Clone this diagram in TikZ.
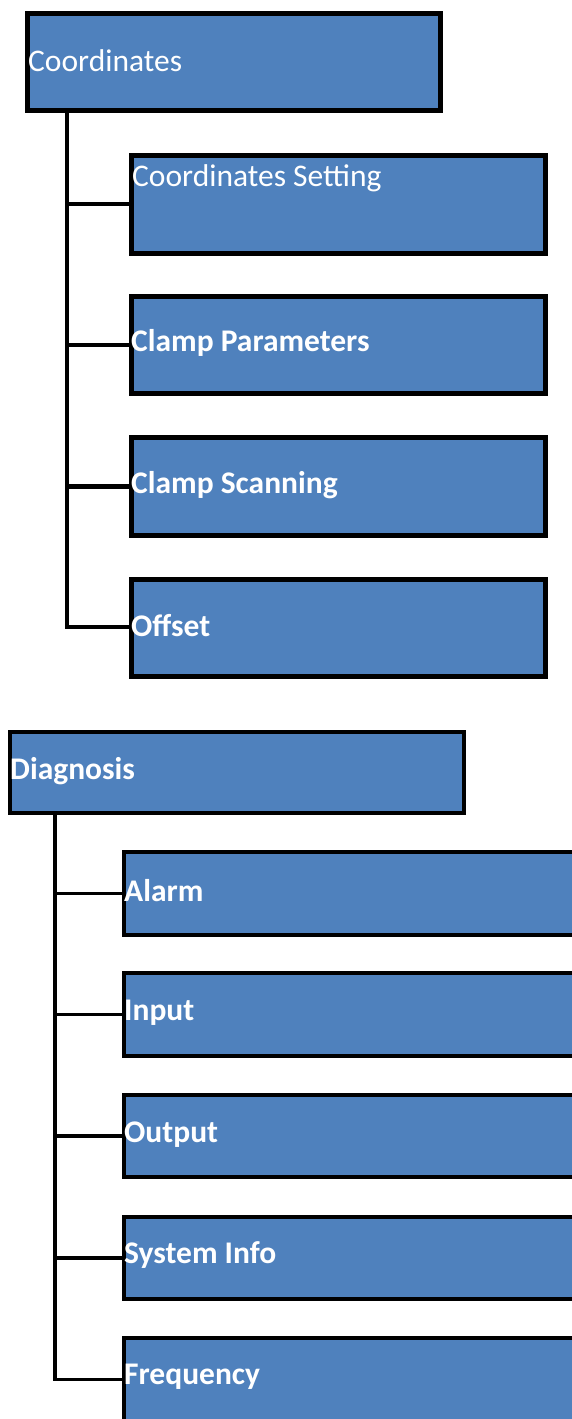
\documentclass[tikz,border=0pt]{standalone}
\usepackage{fontspec}
\setmainfont{Carlito}
\usetikzlibrary{positioning}
\definecolor{boxblue}{HTML}{4F81BD}
\tikzset{
  menubox/.style={draw=black, fill=boxblue, rectangle, anchor=north west,
    inner sep=0pt, line width=#1},
  menubox/.default=4.5pt,
  menutext/.style={text=white, anchor=west, inner sep=0pt, font=\fontsize{31.5}{33}\selectfont},
  boldtext/.style={menutext, font=\fontsize{31.5}{33}\selectfont\bfseries},
  tree/.style={draw=black, line width=#1, line cap=rect},
  tree/.default=4.5pt
}
\begin{document}
\begin{tikzpicture}[x=1pt,y=-1pt]
  \useasboundingbox (0,0) rectangle (572,1419);
  \clip (0,0) rectangle (572,1419);

  % ---- Coordinates menu ----
  \node[menubox, minimum width=413pt, minimum height=97pt] (coord) at (25,11) {};
  \node[menutext] (coordT) at (28,61) {Coordinates};

  \node[menubox, minimum width=414pt, minimum height=98pt] (cset) at (129,153) {};
  \node[menutext] at (132,178) {Coordinates Setting};

  \node[menubox, minimum width=414pt, minimum height=97pt] (clampP) at (129,294) {};
  \node[boldtext] at (131,343) {Clamp Parameters};

  \node[menubox, minimum width=414pt, minimum height=98pt] (clampS) at (129,435) {};
  \node[boldtext] at (131,485) {Clamp Scanning};

  \node[menubox, minimum width=414pt, minimum height=97pt] (offset) at (129,577) {};
  \node[boldtext] at (131,626) {Offset};

  \coordinate (trunkA) at (67,0);
  \draw[tree] (coord.south -| trunkA) |- (offset.west |- 0,627);
  \draw[tree] (cset.west |- 0,204) -- (trunkA |- 0,204);
  \draw[tree] (clampP.west) -- (clampP.west -| trunkA);
  \draw[tree] (clampS.west) -- (clampS.west -| trunkA);

  % ---- Diagnosis menu ----
  \node[menubox=4pt, minimum width=454pt, minimum height=81pt] (diag) at (8,730) {};
  \node[boldtext] at (10,771) {Diagnosis};

  \node[menubox=4pt, minimum width=480pt, minimum height=83pt] (alarm) at (122,850) {};
  \node[boldtext] at (124,891) {Alarm};

  \node[menubox=4pt, minimum width=480pt, minimum height=83pt] (input) at (122,971) {};
  \node[boldtext] at (124,1013) {Input};

  \node[menubox=4pt, minimum width=480pt, minimum height=82pt] (output) at (122,1093) {};
  \node[boldtext] at (124,1135) {Output};

  \node[menubox=4pt, minimum width=480pt, minimum height=82pt] (sysinfo) at (122,1215) {};
  \node[boldtext] at (124,1255) {System Info};

  \node[menubox=4pt, minimum width=480pt, minimum height=83pt] (freq) at (122,1336) {};
  \node[boldtext] at (124,1377) {Frequency};

  \coordinate (trunkB) at (55,0);
  \draw[tree=3.5pt] (diag.south -| trunkB) |- (freq.west);
  \draw[tree=3.5pt] (alarm.west) -- (alarm.west -| trunkB);
  \draw[tree=3.5pt] (input.west) -- (input.west -| trunkB);
  \draw[tree=3.5pt] (output.west) -- (output.west -| trunkB);
  \draw[tree=3.5pt] (sysinfo.west) -- (sysinfo.west -| trunkB);
\end{tikzpicture}
\end{document}
